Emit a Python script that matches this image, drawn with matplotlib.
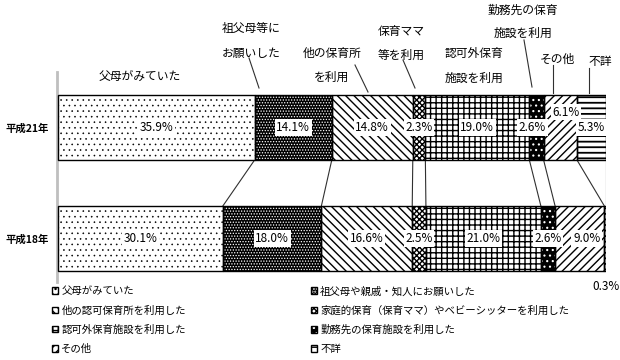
import matplotlib
matplotlib.use('Agg')
import matplotlib.pyplot as plt
from matplotlib.patches import Patch
from matplotlib.lines import Line2D
import numpy as np

plt.rcParams['font.family'] = ['Noto Sans CJK JP', 'DejaVu Sans']
plt.rcParams['hatch.linewidth'] = 1.0

# ---------------- data ----------------
years = ['平成21年', '平成18年']
categories = ['父母がみていた', '祖父母や親戚・知人にお願いした', '他の認可保育所を利用した',
              '家庭的保育（保育ママ）やベビーシッターを利用した', '認可外保育施設を利用した',
              '勤務先の保育施設を利用した', 'その他', '不詳']
h21 = [35.9, 14.1, 14.8, 2.3, 19.0, 2.6, 6.1, 5.3]
h18 = [30.1, 18.0, 16.6, 2.5, 21.0, 2.6, 9.0, 0.3]
callouts = [['父母がみていた'], ['祖父母等に', 'お願いした'], ['他の保育所', 'を利用'],
            ['保育ママ', '等を利用'], ['認可外保育', '施設を利用'], ['勤務先の保育', '施設を利用'],
            ['その他'], ['不詳']]

# ---------------- styles ----------------
# (face, hatch colour, hatch, hatch linewidth)
styles = [('white', 'black', '...', 0.4),
          ('black', 'white', '......', 0.6),
          ('white', 'black', '\\\\\\\\', 1.0),
          ('white', 'black', 'xxxxxx', 1.0),
          ('white', 'black', '+++', 1.0),
          ('black', 'white', '...', 0.8),
          ('white', 'black', '////', 1.0),
          ('white', 'black', '---', 1.3)]

W, H = 620, 360
fig = plt.figure(figsize=(W / 100, H / 100), dpi=100)
ax_l, ax_r, ax_t, ax_b = 57, 606, 72, 282
ax = fig.add_axes([ax_l / W, 1 - ax_b / H, (ax_r - ax_l) / W, (ax_b - ax_t) / H])

bar_h = 0.586
ypos = [0, 1]
series = [h21, h18]
total = max(sum(h21), sum(h18))
ax.set_xlim(-0.2, total)
ax.set_ylim(1.392, -0.5)

cums = []
for yi, vals in zip(ypos, series):
    left = 0.0
    c = []
    for i, v in enumerate(vals):
        fc, hc, ht, hl = styles[i]
        with plt.rc_context({'hatch.linewidth': hl}):
            ax.barh(yi, v, left=left, height=bar_h, color=fc, edgecolor=hc, hatch=ht, lw=0, zorder=2)
        ax.barh(yi, v, left=left, height=bar_h, fill=False, edgecolor='black', lw=1.0, zorder=3)
        left += v
        c.append(left)
    cums.append(c)

# connector lines between bars
for a, b in zip(cums[0], cums[1]):
    ax.plot([a, b], [ypos[0] + bar_h / 2, ypos[1] - bar_h / 2], color='#303030', lw=0.8, zorder=1)

# percentage labels (offsets in points for crowded ones)
offsets = {(0, 5): (-3, 0), (0, 6): (4, 11), (1, 6): (5, 0)}
for si, vals in enumerate(series):
    left = 0.0
    for i, v in enumerate(vals):
        cx = left + v / 2
        left += v
        if si == 1 and i == 7:
            ax.annotate(f'{v:.1f}%', xy=(left, ypos[si] + bar_h / 2), xytext=(0, -11.5),
                        textcoords='offset points', ha='center', va='center', fontsize=8.5,
                        annotation_clip=False)
            continue
        dx, dy = offsets.get((si, i), (0, 0))
        ax.annotate(f'{v:.1f}%', xy=(cx, ypos[si]), xytext=(dx, dy), textcoords='offset points',
                    ha='center', va='center', fontsize=8.5, zorder=5,
                    bbox=dict(facecolor='white', edgecolor='none', pad=1.2))

# axes styling
for s in ['top', 'right', 'bottom']:
    ax.spines[s].set_visible(False)
ax.spines['left'].set_color('#bfbfbf')
ax.spines['left'].set_linewidth(2)
ax.set_xticks([])
ax.set_yticks(ypos)
ax.set_yticklabels(years, fontsize=7.5, fontweight='bold')
ax.tick_params(axis='y', length=0, pad=6)

# callout labels above top bar
call_pos = [(140, [76]), (251, [28, 53]), (332, [53, 77]), (401, [32, 55]),
            (474, [54, 78]), (523, [10, 33]), (557, [59]), (600, [62])]
for lines, (x, ys) in zip(callouts, call_pos):
    for t, y in zip(lines, ys):
        fig.text(x / W, 1 - y / H, t, ha='center', va='center', fontsize=8.5)

leaders = [((249, 58), (259, 88)), ((355, 65), (368, 92)), ((403, 60), (415, 88)),
           ((524, 40), (532, 87)), ((553, 65), (553, 93)), ((589, 68), (589, 93))]
for (x1, y1), (x2, y2) in leaders:
    fig.add_artist(Line2D([x1 / W, x2 / W], [1 - y1 / H, 1 - y2 / H], transform=fig.transFigure,
                          color='#303030', lw=0.8))

# legend
handles = []
for fc, hc, ht, hl in styles:
    with plt.rc_context({'hatch.linewidth': hl}):
        p = Patch(facecolor=fc, edgecolor=hc, hatch=ht, lw=0)
    handles.append((p, Patch(fill=False, edgecolor='black', lw=1)))
order = [0, 2, 4, 6, 1, 3, 5, 7]
fig.legend([handles[i] for i in order], [categories[i] for i in order], ncol=2,
           loc='upper left', bbox_to_anchor=(52 / W, 1 - 286 / H), frameon=False,
           fontsize=7.5, handlelength=0.6, handleheight=0.6, handletextpad=0.3,
           columnspacing=12.0, labelspacing=0.87, borderpad=0, borderaxespad=0)

fig.savefig('out.png', dpi=100)
